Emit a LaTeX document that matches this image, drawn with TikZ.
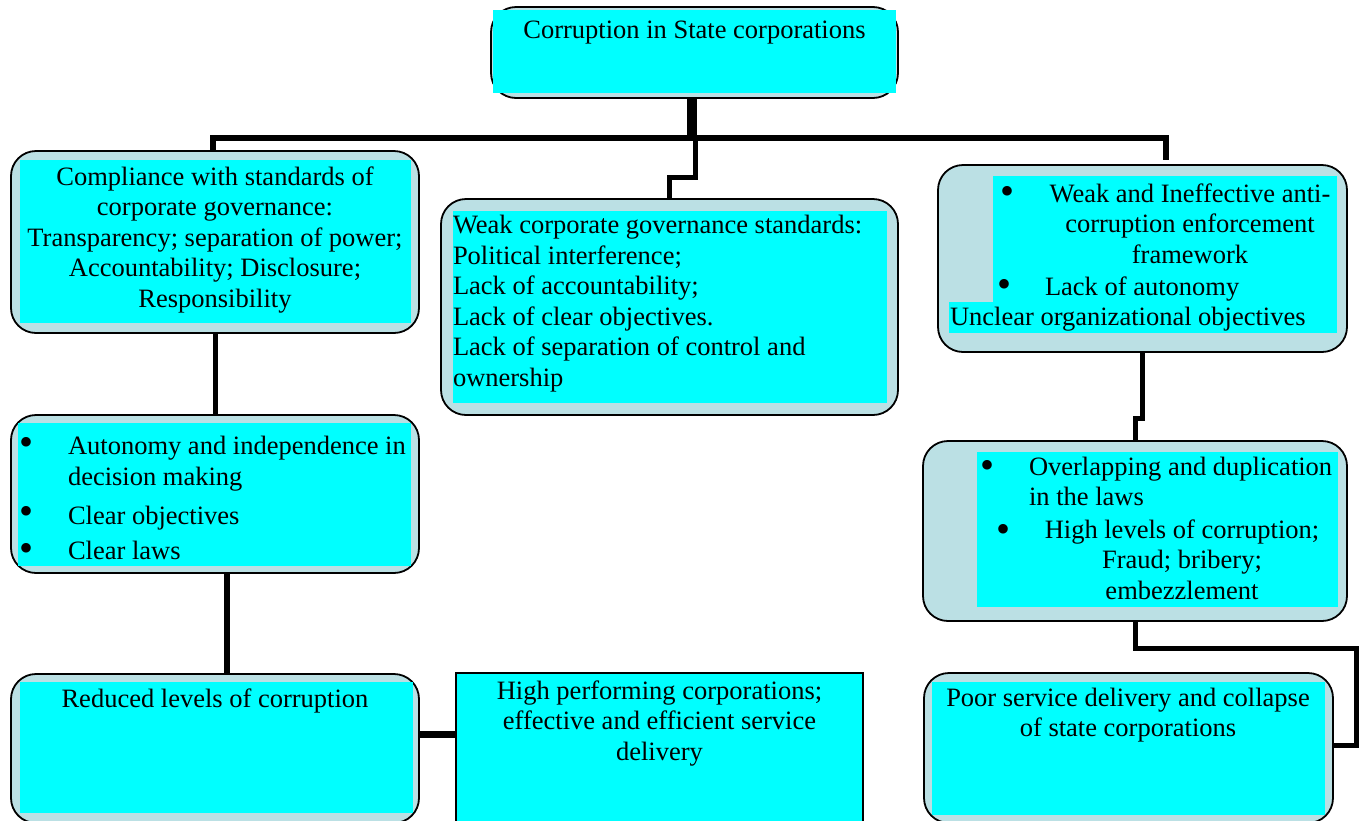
\documentclass[tikz,border=0pt]{standalone}
\usepackage{fontspec}
\setmainfont{Liberation Serif}
\definecolor{boxbg}{RGB}{187,224,228}
\definecolor{cy}{RGB}{0,255,255}
\tikzset{
 obox/.style={draw=black, line width=1.8pt, fill=boxbg, rounded corners=25pt, inner sep=0pt, outer sep=0pt},
 sbox/.style={draw=black, line width=1.8pt, fill=cy, inner sep=0pt, outer sep=0pt},
 txt/.style={inner sep=0pt, outer sep=0pt, font=\fontsize{26.5}{30.5}\selectfont},
 bul/.style={inner sep=0pt, outer sep=0pt, anchor=center, font=\fontsize{40}{40}\selectfont},
 conn/.style={draw=black, line width=5pt, line join=miter},
}
\begin{document}
\begin{tikzpicture}[x=1pt,y=-1pt]
\useasboundingbox (0,0) rectangle (1361,820);
\clip (0,0) rectangle (1361,820);
% boxes
\node[obox, minimum width=407, minimum height=91] (top) at (694.5,52.5) {};
\node[obox, minimum width=408, minimum height=182] (comp) at (215,242) {};
\node[obox, minimum width=457, minimum height=216] (weak) at (669.5,307) {};
\node[obox, minimum width=409, minimum height=187] (enf) at (1142.5,258.5) {};
\node[obox, minimum width=408, minimum height=158] (auto) at (215,494) {};
\node[obox, minimum width=424, minimum height=180] (laws) at (1135,531) {};
\node[obox, minimum width=408, minimum height=149] (reduced) at (215,748.5) {};
\node[sbox, minimum width=407, minimum height=157] (high) at (659.5,751.5) {};
\node[obox, minimum width=409, minimum height=150] (poor) at (1128.5,748) {};
% inner cyan areas
\fill[cy] (493,10) rectangle (896,93);
\fill[cy] (20,160) rectangle (411,323);
\fill[cy] (453,211) rectangle (887,403);
\fill[cy] (993,176) rectangle (1337,333);
\fill[cy] (949,302) rectangle (1337,333);
\fill[cy] (18,423) rectangle (411,566);
\fill[cy] (977,452) rectangle (1338,607);
\fill[cy] (20,682) rectangle (413,813);
\fill[cy] (932,682) rectangle (1325,815);
% texts (multi-line nodes: base anchor = last line)
\node[txt, anchor=base] (ttop) at (694.5,38) {Corruption in State corporations};
\node[txt, anchor=base, align=center] (tcomp) at (215,307) {Compliance with standards of\\corporate governance:\\Transparency; separation of power;\\Accountability; Disclosure;\\Responsibility};
\node[txt, anchor=base west, align=left] (tweak) at (453,386) {Weak corporate governance standards:\\Political interference;\\Lack of accountability;\\Lack of clear objectives.\\Lack of separation of control and\\ownership};
\node[bul] (be1) at (1007,195) {•};
\node[txt, anchor=base, align=center] (tenf1) at (1190,263) {Weak and Ineffective anti-\\corruption enforcement\\framework};
\node[bul] (be2) at (1004,288) {•};
\node[txt, anchor=base west] (tenf2) at (1045,295) {Lack of autonomy};
\node[txt, anchor=base west] (tenf3) at (950,325) {Unclear organizational objectives};
\node[bul] (ba1) at (27,446) {•};
\node[txt, anchor=base west, align=left] (taut1) at (68,485) {Autonomy and independence in\\decision making};
\node[bul] (ba2) at (27,515) {•};
\node[txt, anchor=base west] (taut2) at (68,524) {Clear objectives};
\node[bul] (ba3) at (27,552) {•};
\node[txt, anchor=base west] (taut3) at (68,559) {Clear laws};
\node[bul] (bl1) at (987,469) {•};
\node[txt, anchor=base west, align=left] (tlaw1) at (1029,505.5) {Overlapping and duplication\\in the laws};
\node[bul] (bl2) at (1003,533) {•};
\node[txt, anchor=base, align=center] (tlaw2) at (1182,599) {High levels of corruption;\\Fraud; bribery;\\embezzlement};
\node[txt, anchor=base] (tred) at (215,707) {Reduced levels of corruption};
\node[txt, anchor=base, align=center] (thigh) at (659.5,760) {High performing corporations;\\effective and efficient service\\delivery};
\node[txt, anchor=base, align=center] (tpoor) at (1128,736.5) {Poor service delivery and collapse\\of state corporations};
% connector coordinates
\coordinate (hb) at (0,138);
\coordinate (tv) at (692,0);
\coordinate (lv) at (213,0);
\coordinate (rv) at (1166,160);
\coordinate (m1) at (695,177);
\coordinate (c2) at (227,0);
\coordinate (c3) at (0,734);
\coordinate (s1) at (1142,418);
\coordinate (p1) at (1356,648);
\coordinate (p2) at (0,745);
% connectors
\draw[conn, line width=10pt] (top.south -| tv) -- (tv |- hb);
\draw[conn, line width=6pt] (comp.north -| lv) -- (lv |- hb) -- (rv |- hb) -- (rv);
\draw[conn] (m1 |- hb) -- (m1) -| (weak.north);
\draw[conn] (comp.south) -- (auto.north);
\draw[conn, line width=6pt] (auto.south -| c2) -- (reduced.north -| c2);
\draw[conn, line width=7pt] (reduced.east |- c3) -- (high.west |- c3);
\draw[conn] (enf.south -| s1) -- (s1) -| (laws.north);
\draw[conn] (laws.south) |- (p1) |- (poor.east |- p2);
\end{tikzpicture}
\end{document}
